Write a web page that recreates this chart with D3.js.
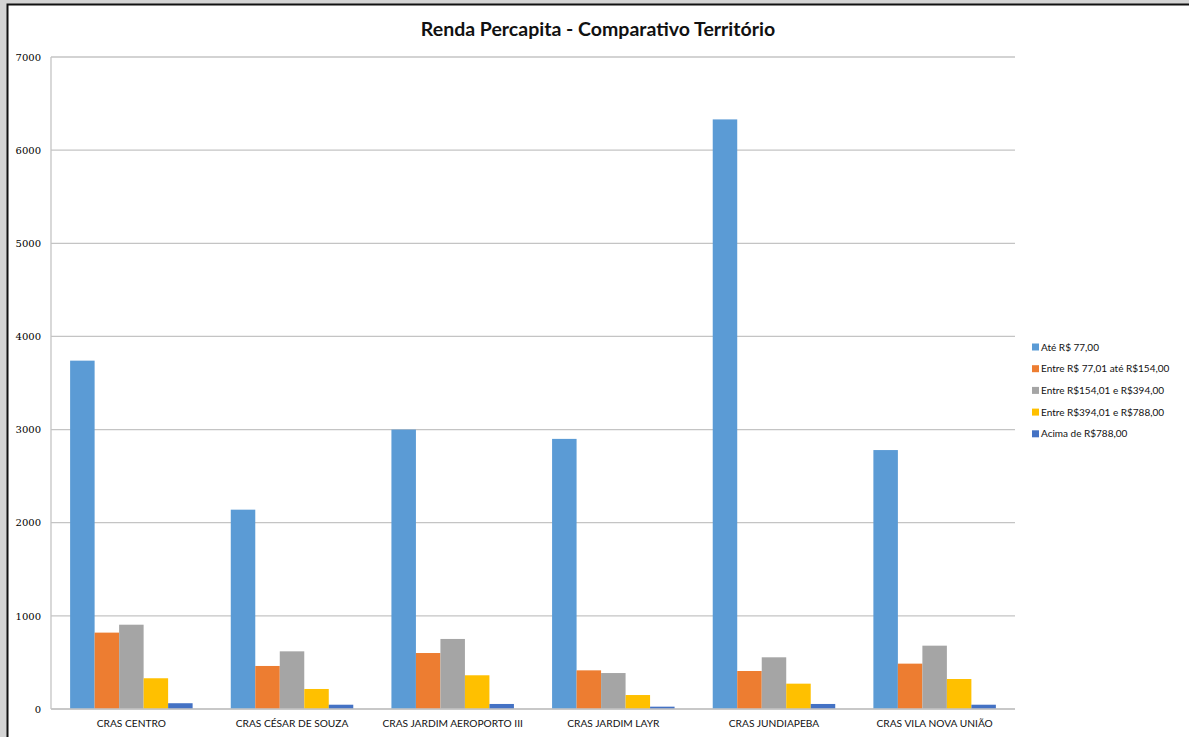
<!DOCTYPE html>
<html>
<head>
<meta charset="utf-8">
<script src="https://cdn.jsdelivr.net/npm/d3@7"></script>
<style>
  html, body { margin: 0; padding: 0; background: #d9d9d9; }
  svg { display: block; }
</style>
</head>
<body>
<svg id="chart" width="1189" height="737"></svg>
<script>
// Income bands per CRAS territory
const categories = [
  "CRAS CENTRO",
  "CRAS CÉSAR DE SOUZA",
  "CRAS JARDIM AEROPORTO III",
  "CRAS JARDIM LAYR",
  "CRAS JUNDIAPEBA",
  "CRAS VILA NOVA UNIÃO"
];
const seriesNames = [
  "Até R$ 77,00",
  "Entre R$ 77,01 até R$154,00",
  "Entre R$154,01 e R$394,00",
  "Entre R$394,01 e R$788,00",
  "Acima de R$788,00"
];
const ate77      = [3740, 2140, 3000, 2900, 6330, 2780];
const de77a154   = [820, 462, 601, 415, 408, 487];
const de154a394  = [905, 619, 752, 386, 555, 680];
const de394a788  = [330, 215, 362, 150, 272, 322];
const acima788   = [62, 46, 54, 25, 54, 46];
const yTicks = [0, 1000, 2000, 3000, 4000, 5000, 6000, 7000];
const colors = ["#5b9bd5", "#ed7d31", "#a5a5a5", "#ffc000", "#4472c4"];

const seriesValues = [ate77, de77a154, de154a394, de394a788, acima788];

const svg = d3.select("#chart");
const W = 1189, H = 737;

// page background and the white chart card
svg.append("rect").attr("width", W).attr("height", H).attr("fill", "#d4d4d4");
svg.append("rect").attr("x", 7).attr("y", 4).attr("width", W - 7).attr("height", H - 4)
  .attr("fill", "#ffffff");
svg.append("path")
  .attr("d", `M7.5,${H} V4.5 H${W}`)
  .attr("fill", "none").attr("stroke", "#111").attr("stroke-width", 2);

const plot = { left: 51, right: 1015, top: 57, bottom: 709 };

const x0 = d3.scaleBand().domain(categories).range([plot.left, plot.right]).paddingInner(0.2375).paddingOuter(0.119);
const x1 = d3.scaleBand().domain(d3.range(seriesNames.length)).range([0, x0.bandwidth()]);
const y = d3.scaleLinear().domain([0, 7000]).range([plot.bottom, plot.top]);

// gridlines
svg.append("g").selectAll("line").data(yTicks).join("line")
  .attr("x1", plot.left).attr("x2", plot.right)
  .attr("y1", d => y(d)).attr("y2", d => y(d))
  .attr("stroke", "#c4c4c4").attr("stroke-width", 1.3);

// left edge of the plot area
svg.append("line").attr("x1", plot.left).attr("x2", plot.left)
  .attr("y1", plot.top).attr("y2", plot.bottom)
  .attr("stroke", "#c4c4c4").attr("stroke-width", 1.3);

// y axis labels
const yAxis = d3.axisLeft(y).tickValues(yTicks).tickSize(0).tickPadding(10).tickFormat(d3.format("d"));
const gy = svg.append("g").attr("transform", `translate(${plot.left},0)`).call(yAxis);
gy.select(".domain").remove();
gy.selectAll("text")
  .attr("font-family", "'DejaVu Serif', 'Liberation Serif', serif")
  .attr("font-size", 10).attr("fill", "#000");

// bars
const groups = svg.append("g").selectAll("g").data(categories).join("g")
  .attr("transform", d => `translate(${x0(d)},0)`);
groups.selectAll("rect")
  .data((c, ci) => seriesValues.map((vals, si) => ({ si, v: vals[ci] })))
  .join("rect")
  .attr("x", d => x1(d.si))
  .attr("width", x1.bandwidth())
  .attr("y", d => y(d.v))
  .attr("height", d => y(0) - y(d.v))
  .attr("fill", d => colors[d.si]);

// baseline drawn over the bars
svg.append("line").attr("x1", plot.left).attr("x2", plot.right)
  .attr("y1", y(0)).attr("y2", y(0))
  .attr("stroke", "#c4c4c4").attr("stroke-width", 1.3);

// category labels
const xAxis = d3.axisBottom(x0).tickSize(0).tickPadding(11);
const gx = svg.append("g").attr("transform", `translate(0,${plot.bottom})`).call(xAxis);
gx.select(".domain").remove();
gx.selectAll("text")
  .attr("font-family", "Lato, 'Open Sans', sans-serif")
  .attr("font-size", 10.2).attr("fill", "#111");

// title
svg.append("text")
  .attr("x", 598).attr("y", 36)
  .attr("text-anchor", "middle")
  .attr("font-family", "Lato, 'Open Sans', sans-serif")
  .attr("font-weight", "bold").attr("font-size", 19.5).attr("fill", "#111")
  .text("Renda Percapita - Comparativo Território");

// legend
const legend = svg.append("g").attr("transform", "translate(1032,347)");
const items = legend.selectAll("g").data(seriesNames).join("g")
  .attr("transform", (d, i) => `translate(0,${i * 21.7})`);
items.append("rect").attr("x", 0).attr("y", -3.5).attr("width", 7).attr("height", 7)
  .attr("fill", (d, i) => colors[i]);
items.append("text").attr("x", 9).attr("y", 0).attr("dy", "0.35em")
  .attr("font-family", "Lato, 'Open Sans', sans-serif")
  .attr("font-size", 10).attr("fill", "#111")
  .text(d => d);
</script>
</body>
</html>
